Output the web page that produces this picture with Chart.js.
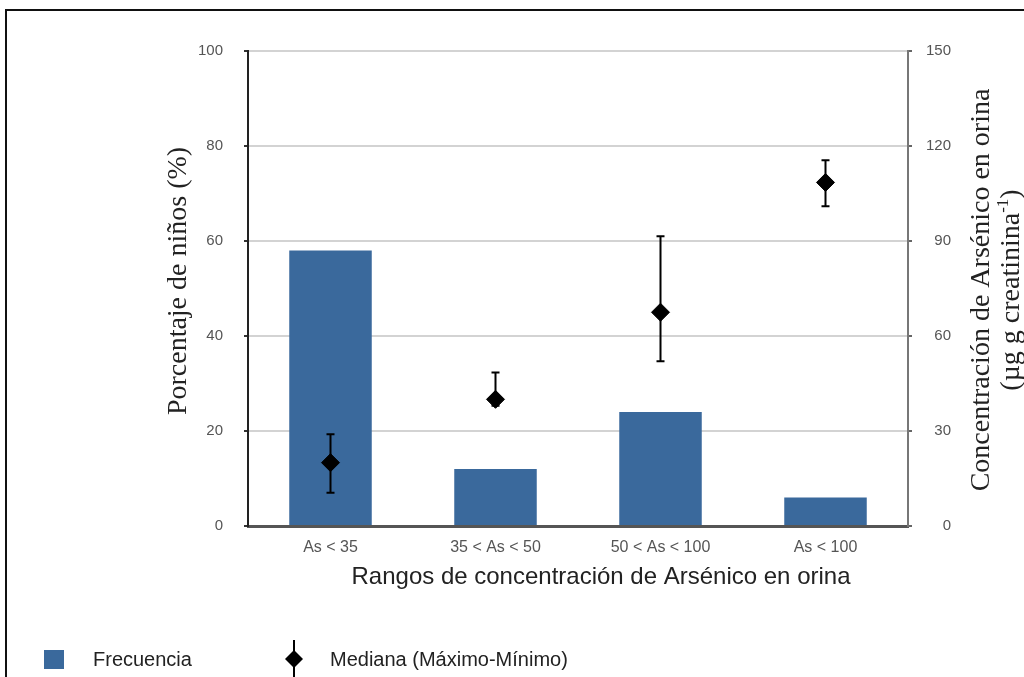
<!DOCTYPE html>
<html>
<head>
<meta charset="utf-8">
<script src="https://cdn.jsdelivr.net/npm/chart.js@4.4.1/dist/chart.umd.min.js"></script>
<style>
  body { margin: 0; background: #fff; }
  canvas { display: block; }
</style>
</head>
<body>
<canvas id="myChart" width="1024" height="677"></canvas>
<script>
/* data */
const categories = ['As < 35', '35 < As < 50', '50 < As < 100', 'As < 100'];
const frecuencia = [58, 12, 24, 6];
const mediana = [20, 40, 67.5, 108.5];
const maximo = [29, 48.5, 91.5, 115.5];
const minimo = [10.5, 38, 52, 101];

const barColor = '#3a699c';
const sans = '"Liberation Sans", Arial, sans-serif';
const serif = '"Liberation Serif", "Times New Roman", serif';

/* frame around the figure */
const frame = {
    id: 'frame',
    beforeDraw(chart) {
        const ctx = chart.ctx;
        ctx.save();
        ctx.fillStyle = '#fff';
        ctx.fillRect(0, 0, chart.width, chart.height);
        ctx.strokeStyle = '#111';
        ctx.lineWidth = 2;
        ctx.beginPath();
        ctx.moveTo(6, chart.height);
        ctx.lineTo(6, 10);
        ctx.lineTo(chart.width, 10);
        ctx.stroke();
        ctx.restore();
    }
};

/* max-min whiskers, drawn right after the bars so the diamonds sit on top */
const errorBars = {
    id: 'errorBars',
    afterDatasetDraw(chart, args) {
        if (args.index !== 1) return;
        const ctx = chart.ctx;
        const x = chart.scales.x;
        const y1 = chart.scales.y1;
        ctx.save();
        ctx.strokeStyle = '#000';
        ctx.lineWidth = 2;
        categories.forEach((c, i) => {
            const px = x.getPixelForValue(i);
            const top = y1.getPixelForValue(maximo[i]);
            const bot = y1.getPixelForValue(minimo[i]);
            ctx.beginPath();
            ctx.moveTo(px, top);
            ctx.lineTo(px, bot);
            ctx.moveTo(px - 4, top);
            ctx.lineTo(px + 4, top);
            ctx.moveTo(px - 4, bot);
            ctx.lineTo(px + 4, bot);
            ctx.stroke();
        });
        ctx.restore();
    }
};

/* axis titles and the legend row */
const extras = {
    id: 'extras',
    afterDraw(chart) {
        const ctx = chart.ctx;
        const ds = chart.data.datasets;

        ctx.save();
        ctx.fillStyle = '#222';
        ctx.textBaseline = 'middle';
        ctx.textAlign = 'center';

        // x title
        ctx.font = '24px ' + sans;
        ctx.fillText('Rangos de concentración de Arsénico en orina', 601, 577);

        // left title
        ctx.save();
        ctx.translate(179, 281);
        ctx.rotate(-Math.PI / 2);
        ctx.font = '28px ' + serif;
        ctx.fillText('Porcentaje de niños (%)', 0, 0);
        ctx.restore();

        // right title, two lines
        ctx.translate(982, 290);
        ctx.rotate(-Math.PI / 2);
        ctx.font = '28px ' + serif;
        ctx.fillText('Concentración de Arsénico en orina', 0, 0);

        const a = '(µg g creatinina';
        const sup = '-1';
        const b = ')';
        const wa = ctx.measureText(a).width;
        const wb = ctx.measureText(b).width;
        ctx.font = '17px ' + serif;
        const ws = ctx.measureText(sup).width;
        const sx = -(wa + ws + wb) / 2;
        ctx.textAlign = 'left';
        ctx.font = '28px ' + serif;
        ctx.fillText(a, sx, 30);
        ctx.font = '17px ' + serif;
        ctx.fillText(sup, sx + wa, 22);
        ctx.font = '28px ' + serif;
        ctx.fillText(b, sx + wa + ws, 30);
        ctx.restore();

        // legend
        ctx.save();
        ctx.fillStyle = barColor;
        ctx.fillRect(44, 650, 20, 19);
        ctx.fillStyle = '#222';
        ctx.font = '20px ' + sans;
        ctx.textBaseline = 'middle';
        ctx.fillText(ds[1].label, 93, 660);
        ctx.fillText(ds[0].label, 330, 660);
        ctx.strokeStyle = '#000';
        ctx.lineWidth = 2;
        ctx.beginPath();
        ctx.moveTo(294, 640);
        ctx.lineTo(294, chart.height);
        ctx.stroke();
        ctx.fillStyle = '#000';
        Chart.helpers.drawPoint(ctx, { pointStyle: 'rectRot', radius: 9, borderWidth: 0 }, 294, 659);
        ctx.restore();
    }
};

const ctx = document.getElementById('myChart').getContext('2d');
const myChart = new Chart(ctx, {
    data: {
        labels: categories,
        datasets: [{
            type: 'line',
            label: 'Mediana (Máximo-Mínimo)',
            data: mediana,
            yAxisID: 'y1',
            showLine: false,
            pointStyle: 'rectRot',
            pointRadius: 9,
            pointBackgroundColor: '#000',
            pointBorderColor: '#000',
            pointBorderWidth: 1,
            order: 0
        }, {
            type: 'bar',
            label: 'Frecuencia',
            data: frecuencia,
            yAxisID: 'y',
            backgroundColor: barColor,
            borderWidth: 0,
            categoryPercentage: 1,
            barPercentage: 0.5,
            order: 1
        }]
    },
    options: {
        responsive: false,
        animation: false,
        layout: { padding: { left: 140, right: 73, top: 51, bottom: 0 } },
        plugins: {
            legend: { display: false },
            tooltip: { enabled: false }
        },
        scales: {
            x: {
                offset: true,
                grid: { display: false, drawTicks: false },
                border: { color: '#555', width: 3 },
                ticks: { color: '#555', font: { family: sans, size: 16 }, padding: 12 },
                afterFit(scale) { scale.height = 151; }
            },
            y: {
                position: 'left',
                min: 0,
                max: 100,
                ticks: { stepSize: 20, color: '#555', font: { family: sans, size: 15 }, padding: 21 },
                grid: { color: '#d3d3d3', lineWidth: 2, tickLength: 4, tickColor: '#333' },
                border: { color: '#222', width: 2 },
                afterFit(scale) { scale.width = 108; }
            },
            y1: {
                position: 'right',
                min: 0,
                max: 150,
                ticks: { stepSize: 30, color: '#555', font: { family: sans, size: 15 }, padding: 10, crossAlign: 'far' },
                grid: { drawOnChartArea: false, tickLength: 4, tickColor: '#666', lineWidth: 2 },
                border: { color: '#777', width: 2 },
                afterFit(scale) { scale.width = 43; }
            }
        }
    },
    plugins: [frame, errorBars, extras]
});
</script>
</body>
</html>
